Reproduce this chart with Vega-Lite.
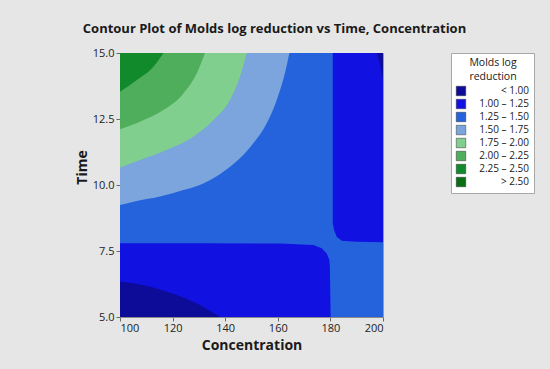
{
  "$schema": "https://vega.github.io/schema/vega-lite/v6.json",
  "width": 263,
  "height": 264,
  "autosize": {"type": "none"},
  "padding": {"left": 120, "top": 53, "right": 167, "bottom": 52},
  "background": "#e6e6e6",
  "title": {
    "text": "Contour Plot of Molds log reduction vs Time, Concentration",
    "font": "Open Sans",
    "fontSize": 13,
    "fontWeight": "bold",
    "color": "#1a1a1a",
    "anchor": "middle",
    "dx": 23,
    "offset": 11
  },
  "datasets": {
    "base": [
      {"c": 100, "t": 5, "t2": 15, "level": "1.25 – 1.50"},
      {"c": 200, "t": 5, "t2": 15, "level": "1.25 – 1.50"}
    ],
    "blueLow": [
      {"c": 100, "t": 7.79, "t2": 5, "level": "1.00 – 1.25"},
      {"c": 130, "t": 7.79, "t2": 5, "level": "1.00 – 1.25"},
      {"c": 160.8, "t": 7.78, "t2": 5, "level": "1.00 – 1.25"},
      {"c": 173.5, "t": 7.73, "t2": 5, "level": "1.00 – 1.25"},
      {"c": 176.7, "t": 7.6, "t2": 5, "level": "1.00 – 1.25"},
      {"c": 178.6, "t": 7.41, "t2": 5, "level": "1.00 – 1.25"},
      {"c": 179.6, "t": 7.16, "t2": 5, "level": "1.00 – 1.25"},
      {"c": 179.8, "t": 6.9, "t2": 5, "level": "1.00 – 1.25"},
      {"c": 180.1, "t": 5, "t2": 5, "level": "1.00 – 1.25"}
    ],
    "blueRight": [
      {"c": 180.9, "t": 8.55, "t2": 15, "level": "1.00 – 1.25"},
      {"c": 181.4, "t": 8.3, "t2": 15, "level": "1.00 – 1.25"},
      {"c": 182.4, "t": 8.04, "t2": 15, "level": "1.00 – 1.25"},
      {"c": 184.3, "t": 7.89, "t2": 15, "level": "1.00 – 1.25"},
      {"c": 190, "t": 7.85, "t2": 15, "level": "1.00 – 1.25"},
      {"c": 200, "t": 7.83, "t2": 15, "level": "1.00 – 1.25"}
    ],
    "navyLow": [
      {"c": 100, "t": 6.34, "t2": 5, "level": "< 1.00"},
      {"c": 111.4, "t": 6.15, "t2": 5, "level": "< 1.00"},
      {"c": 121.6, "t": 5.83, "t2": 5, "level": "< 1.00"},
      {"c": 130.4, "t": 5.45, "t2": 5, "level": "< 1.00"},
      {"c": 138, "t": 5, "t2": 5, "level": "< 1.00"}
    ],
    "navyTop": [
      {"c": 197.6, "t": 15, "t2": 15, "level": "< 1.00"},
      {"c": 198.8, "t": 14.6, "t2": 15, "level": "< 1.00"},
      {"c": 199.6, "t": 14.2, "t2": 15, "level": "< 1.00"},
      {"c": 200, "t": 14.0, "t2": 15, "level": "< 1.00"}
    ],
    "lightBlue": [
      {"c": 100, "t": 9.24, "t2": 15, "level": "1.50 – 1.75"},
      {"c": 105.1, "t": 9.37, "t2": 15, "level": "1.50 – 1.75"},
      {"c": 115.2, "t": 9.56, "t2": 15, "level": "1.50 – 1.75"},
      {"c": 124.1, "t": 9.81, "t2": 15, "level": "1.50 – 1.75"},
      {"c": 131.7, "t": 10.06, "t2": 15, "level": "1.50 – 1.75"},
      {"c": 139.3, "t": 10.5, "t2": 15, "level": "1.50 – 1.75"},
      {"c": 145.6, "t": 11.01, "t2": 15, "level": "1.50 – 1.75"},
      {"c": 150.7, "t": 11.58, "t2": 15, "level": "1.50 – 1.75"},
      {"c": 155.8, "t": 12.34, "t2": 15, "level": "1.50 – 1.75"},
      {"c": 159.6, "t": 13.22, "t2": 15, "level": "1.50 – 1.75"},
      {"c": 162.7, "t": 14.23, "t2": 15, "level": "1.50 – 1.75"},
      {"c": 164.4, "t": 15, "t2": 15, "level": "1.50 – 1.75"}
    ],
    "lightGreen": [
      {"c": 100, "t": 10.66, "t2": 15, "level": "1.75 – 2.00"},
      {"c": 107.6, "t": 10.95, "t2": 15, "level": "1.75 – 2.00"},
      {"c": 117.7, "t": 11.33, "t2": 15, "level": "1.75 – 2.00"},
      {"c": 127.9, "t": 11.83, "t2": 15, "level": "1.75 – 2.00"},
      {"c": 135.5, "t": 12.46, "t2": 15, "level": "1.75 – 2.00"},
      {"c": 141.8, "t": 13.22, "t2": 15, "level": "1.75 – 2.00"},
      {"c": 145.6, "t": 14.1, "t2": 15, "level": "1.75 – 2.00"},
      {"c": 148.2, "t": 15, "t2": 15, "level": "1.75 – 2.00"}
    ],
    "green": [
      {"c": 100, "t": 12.11, "t2": 15, "level": "2.00 – 2.25"},
      {"c": 107.6, "t": 12.4, "t2": 15, "level": "2.00 – 2.25"},
      {"c": 116.5, "t": 12.84, "t2": 15, "level": "2.00 – 2.25"},
      {"c": 124.1, "t": 13.47, "t2": 15, "level": "2.00 – 2.25"},
      {"c": 129.2, "t": 14.23, "t2": 15, "level": "2.00 – 2.25"},
      {"c": 132.3, "t": 15, "t2": 15, "level": "2.00 – 2.25"}
    ],
    "darkGreen": [
      {"c": 100, "t": 13.53, "t2": 15, "level": "2.25 – 2.50"},
      {"c": 106.3, "t": 13.97, "t2": 15, "level": "2.25 – 2.50"},
      {"c": 112.7, "t": 14.48, "t2": 15, "level": "2.25 – 2.50"},
      {"c": 116.5, "t": 15, "t2": 15, "level": "2.25 – 2.50"}
    ]
  },
  "encoding": {
    "x": {
      "field": "c",
      "type": "quantitative",
      "scale": {"domain": [100, 200], "nice": false, "zero": false},
      "axis": {
        "title": "Concentration",
        "values": [100, 120, 140, 160, 180, 200],
        "grid": false,
        "tickSize": 4,
        "labelPadding": 1,
        "titlePadding": 5
      }
    },
    "y": {
      "field": "t",
      "type": "quantitative",
      "stack": null,
      "scale": {"domain": [5, 15], "nice": false, "zero": false},
      "axis": {
        "title": "Time",
        "values": [5, 7.5, 10, 12.5, 15],
        "format": ".1f",
        "grid": false,
        "tickSize": 4,
        "labelPadding": 2,
        "titleX": -38,
        "titleY": 114,
        "titleBaseline": "middle"
      }
    },
    "y2": {"field": "t2"},
    "color": {
      "field": "level",
      "type": "nominal",
      "scale": {
        "domain": ["< 1.00", "1.00 – 1.25", "1.25 – 1.50", "1.50 – 1.75", "1.75 – 2.00", "2.00 – 2.25", "2.25 – 2.50", "> 2.50"],
        "range": ["#0c0c98", "#1111e2", "#2563dd", "#7ba5dc", "#80cf8f", "#4fae5c", "#118a2c", "#0a6e14"]
      },
      "legend": {
        "title": ["Molds log", "reduction"],
        "orient": "none",
        "legendX": 331,
        "legendY": 0,
        "fillColor": "white",
        "strokeColor": "#a8a8a8",
        "padding": 5,
        "symbolType": "square",
        "symbolSize": 90,
        "symbolStrokeWidth": 0.5,
        "symbolStrokeColor": "#333",
        "labelAlign": "right",
        "labelOffset": 63,
        "labelFontSize": 10,
        "labelFont": "Open Sans",
        "labelColor": "#1a1a1a",
        "rowPadding": 1,
        "titleFont": "Open Sans",
        "titleFontSize": 10.5,
        "titleFontWeight": "normal",
        "titleColor": "#1a1a1a",
        "titleAnchor": "middle",
        "titleAlign": "center",
        "titleLineHeight": 13.5,
        "titlePadding": 4
      }
    }
  },
  "layer": [
    {"data": {"name": "base"}, "mark": {"type": "area"}},
    {"data": {"name": "blueLow"}, "mark": {"type": "area"}},
    {"data": {"name": "blueRight"}, "mark": {"type": "area"}},
    {"data": {"name": "navyLow"}, "mark": {"type": "area", "interpolate": "monotone"}},
    {"data": {"name": "navyTop"}, "mark": {"type": "area"}},
    {"data": {"name": "lightBlue"}, "mark": {"type": "area", "interpolate": "monotone"}},
    {"data": {"name": "lightGreen"}, "mark": {"type": "area", "interpolate": "monotone"}},
    {"data": {"name": "green"}, "mark": {"type": "area", "interpolate": "monotone"}},
    {"data": {"name": "darkGreen"}, "mark": {"type": "area", "interpolate": "monotone"}}
  ],
  "config": {
    "view": {"stroke": "#9a9a9a", "strokeWidth": 1},
    "axis": {
      "labelFont": "Open Sans",
      "labelFontSize": 11,
      "labelColor": "#222222",
      "titleFont": "Open Sans",
      "titleFontSize": 14,
      "titleFontWeight": "bold",
      "titleColor": "#1a1a1a",
      "domainColor": "#8a8a8a",
      "tickColor": "#6a6a6a"
    }
  }
}
